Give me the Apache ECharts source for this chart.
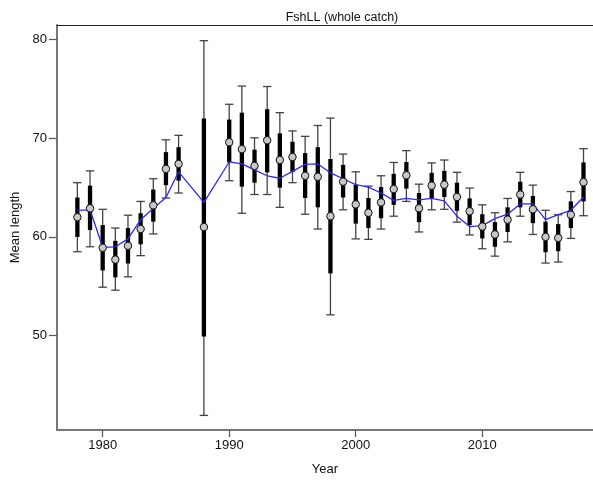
<!DOCTYPE html>
<html>
<head>
<meta charset="utf-8">
<script src="https://cdn.jsdelivr.net/npm/echarts@6/dist/echarts.min.js"></script>
<style>html,body{margin:0;padding:0;background:#fff}#c{width:593px;height:481px}</style>
</head>
<body>
<div id="c"></div>
<script>
var years = [1978,1979,1980,1981,1982,1983,1984,1985,1986,1988,1990,1991,1992,1993,1994,1995,1996,1997,1998,1999,2000,2001,2002,2003,2004,2005,2006,2007,2008,2009,2010,2011,2012,2013,2014,2015,2016,2017,2018];
var obs   = [62.0,62.9,58.9,57.7,59.1,60.8,63.2,66.9,67.4,61.0,69.6,68.9,67.2,69.8,67.8,68.1,66.2,66.1,62.1,65.6,63.3,62.45,63.5,64.85,66.25,62.9,65.2,65.3,64.05,62.6,61.05,60.25,61.75,64.3,62.8,60.0,59.9,62.25,65.55];
var hi95  = [65.5,66.7,62.8,60.9,62.2,63.6,65.9,69.85,70.3,79.9,73.45,75.3,70.05,75.25,72.6,70.75,70.2,71.3,72.05,68.4,66.6,65.15,66.2,67.55,68.75,65.35,67.5,67.8,66.55,64.95,63.25,62.45,63.9,66.55,65.25,62.7,62.25,64.6,68.95];
var hi50  = [64.0,65.2,61.2,59.6,60.9,62.4,64.8,68.6,69.1,72.0,71.9,72.6,68.85,72.95,70.5,69.65,68.5,69.1,67.9,67.3,65.3,63.95,65.05,66.4,67.6,64.45,66.5,66.7,65.5,63.9,62.3,61.5,63.0,65.6,64.15,61.55,61.3,63.6,67.55];
var lo50  = [60.0,60.7,56.6,55.9,57.3,59.25,61.55,65.25,65.7,49.9,67.55,65.1,65.5,66.55,65.0,66.6,63.95,63.0,56.3,64.0,61.35,60.9,61.9,63.25,64.9,61.5,63.95,64.05,62.65,61.2,59.85,59.0,60.5,63.0,61.4,58.45,58.55,60.9,63.6];
var lo95  = [58.5,59.0,54.9,54.6,55.95,58.1,60.3,63.95,64.45,41.9,65.7,62.4,64.3,64.3,63.0,65.5,62.3,60.8,52.1,62.75,59.8,59.75,60.8,62.1,63.6,60.5,62.75,62.8,61.5,60.2,58.8,58.05,59.5,62.1,60.25,57.35,57.45,59.85,62.15];
var pred  = [62.7,62.75,58.95,59.0,59.8,61.75,62.9,64.0,66.6,63.5,67.6,67.4,66.8,66.2,65.95,66.65,67.35,67.4,66.5,65.9,65.3,65.05,64.45,63.7,63.9,63.75,63.9,63.65,62.1,61.05,61.15,61.85,62.3,63.35,63.35,61.75,62.25,62.7,64.05];
var xTicks = [1980,1990,2000,2010];
var yTicks = [50,60,70,80];

var barData = years.map(function(y,i){return [y, obs[i], lo95[i], hi95[i], lo50[i], hi50[i]];});
var predData = years.map(function(y,i){return [y, pred[i]];});
var ptData = years.map(function(y,i){return [y, obs[i]];});

var FONT = 'Liberation Sans, Arial, sans-serif';
var chart = echarts.init(document.getElementById('c'), null, {renderer:'canvas'});
chart.setOption({
  animation:false,
  backgroundColor:'#fff',
  title:{text:'FshLL (whole catch)', left:337, top:6, textAlign:'center',
    textStyle:{fontFamily:FONT,fontSize:12.5,fontWeight:'normal',color:'#111'}},
  grid:{left:57, right:0, top:25, bottom:50},
  xAxis:[{
    type:'value', min:1976.39, max:2018.75,
    name:'Year', nameLocation:'middle', nameGap:33,
    nameTextStyle:{fontFamily:FONT,fontSize:13,color:'#111'},
    axisLine:{show:true,onZero:false,lineStyle:{color:'#777',width:2}},
    axisTick:{show:true,length:7,customValues:xTicks,lineStyle:{color:'#555',width:1.2}},
    axisLabel:{customValues:xTicks,margin:9,fontFamily:FONT,fontSize:13,color:'#111',
      formatter:function(v){return String(v);}},
    splitLine:{show:false}
  },{
    type:'value', position:'top', min:1976.39, max:2018.75,
    axisLine:{show:true,onZero:false,lineStyle:{color:'#222',width:1}},
    axisTick:{show:false}, axisLabel:{show:false}, splitLine:{show:false}
  }],
  yAxis:{
    type:'value', min:40.42, max:81.49,
    name:'Mean length', nameLocation:'middle', nameGap:32, nameRotate:90,
    nameTextStyle:{fontFamily:FONT,fontSize:13,color:'#111'},
    axisLine:{show:true,onZero:false,lineStyle:{color:'#777',width:2}},
    axisTick:{show:true,length:8,customValues:yTicks,lineStyle:{color:'#555',width:1.2}},
    axisLabel:{customValues:yTicks,margin:10,fontFamily:FONT,fontSize:13,color:'#111',
      formatter:function(v){return String(v);}},
    splitLine:{show:false}
  },
  series:[{
    type:'custom', z:2, data:barData, clip:false,
    encode:{x:0,y:[2,3]},
    renderItem:function(params, api){
      var x = api.value(0);
      var pLo = api.coord([x, api.value(2)]);
      var pHi = api.coord([x, api.value(3)]);
      var p5l = api.coord([x, api.value(4)]);
      var p5h = api.coord([x, api.value(5)]);
      var cx = pLo[0], hw = 4.2;
      var ws = {stroke:'#444', lineWidth:1.3};
      return {type:'group', children:[
        {type:'line', shape:{x1:cx,y1:pLo[1],x2:cx,y2:pHi[1]}, style:ws},
        {type:'line', shape:{x1:cx-hw,y1:pLo[1],x2:cx+hw,y2:pLo[1]}, style:ws},
        {type:'line', shape:{x1:cx-hw,y1:pHi[1],x2:cx+hw,y2:pHi[1]}, style:ws},
        {type:'line', shape:{x1:cx,y1:p5l[1],x2:cx,y2:p5h[1]}, style:{stroke:'#000',lineWidth:4.3}}
      ]};
    }
  },{
    type:'line', z:3, data:predData, showSymbol:false, symbol:'none',
    lineStyle:{color:'#2a2af5', width:1.3}, xAxisIndex:0
  },{
    type:'scatter', z:4, data:ptData, symbol:'circle', symbolSize:7.5,
    itemStyle:{color:'#c8c8c8', borderColor:'#111', borderWidth:1, opacity:1}
  }]
});
</script>
</body>
</html>
